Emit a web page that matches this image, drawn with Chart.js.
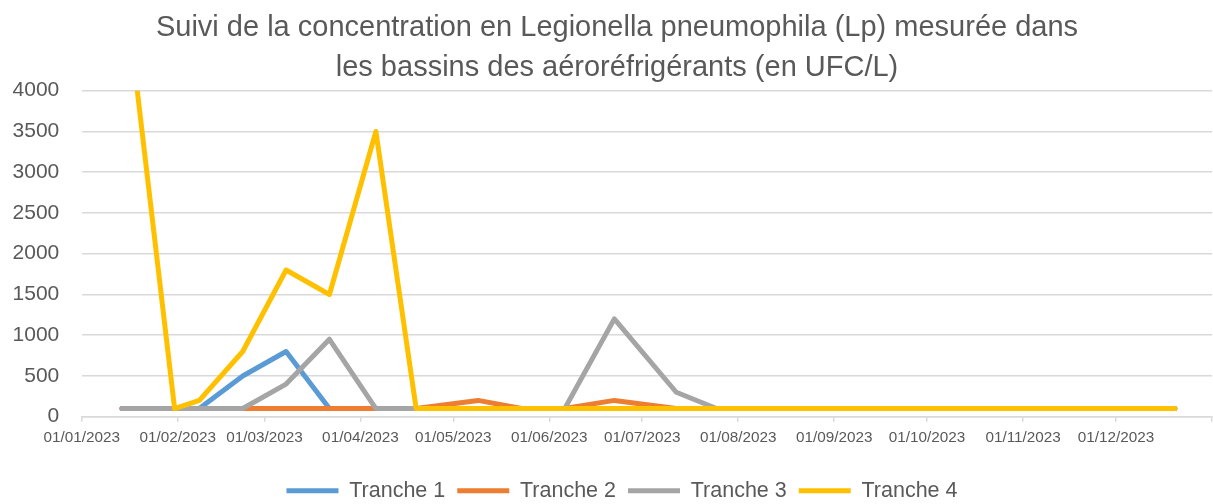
<!DOCTYPE html>
<html lang="fr">
<head>
<meta charset="utf-8">
<title>Suivi Legionella pneumophila</title>
<script src="https://cdn.jsdelivr.net/npm/chart.js@4.4.1/dist/chart.umd.min.js"></script>
<style>
  html, body { margin: 0; padding: 0; background: #fff; }
</style>
</head>
<body>
<canvas id="chart" width="1213" height="504"></canvas>
<script>
// Dates de prélèvement
const sampleDates = [
  '2023-01-14', '2023-01-31', '2023-02-08', '2023-02-22', '2023-03-08', '2023-03-22',
  '2023-04-06', '2023-04-19', '2023-05-09', '2023-05-23', '2023-06-06', '2023-06-22',
  '2023-07-12', '2023-07-25', '2023-08-08', '2023-08-22', '2023-09-05', '2023-09-19',
  '2023-10-03', '2023-10-17', '2023-10-31', '2023-11-14', '2023-11-28', '2023-12-12',
  '2023-12-20'
];

// Concentrations en UFC/L
const tranche1 = [100, 100, 100, 500, 800, 100, 100, 100, 100, 100, 100, 100, 100, 100, 100, 100, 100, 100, 100, 100, 100, 100, 100, 100, 100];
const tranche2 = [100, 100, 100, 100, 100, 100, 100, 100, 200, 100, 100, 200, 100, 100, 100, 100, 100, 100, 100, 100, 100, 100, 100, 100, 100];
const tranche3 = [100, 100, 100, 100, 400, 950, 100, 100, 100, 100, 100, 1200, 300, 100, 100, 100, 100, 100, 100, 100, 100, 100, 100, 100, 100];
const tranche4 = [5600, 100, 200, 800, 1800, 1500, 3500, 100, 100, 100, 100, 100, 100, 100, 100, 100, 100, 100, 100, 100, 100, 100, 100, 100, 100];

const seriesNames = ['Tranche 1', 'Tranche 2', 'Tranche 3', 'Tranche 4'];
const seriesColors = ['#5B9BD5', '#ED7D31', '#A5A5A5', '#FFC000'];

// Graduations de l'axe des dates
const monthTickDates = [
  '2023-01-01', '2023-02-01', '2023-03-01', '2023-04-01', '2023-05-01', '2023-06-01',
  '2023-07-01', '2023-08-01', '2023-09-01', '2023-10-01', '2023-11-01', '2023-12-01',
  '2024-01-01'
];
const monthTickLabels = [
  '01/01/2023', '01/02/2023', '01/03/2023', '01/04/2023', '01/05/2023', '01/06/2023',
  '01/07/2023', '01/08/2023', '01/09/2023', '01/10/2023', '01/11/2023', '01/12/2023', ''
];

const textColor = '#595959';
const gridColor = '#D9D9D9';
const fontFamily = "'Liberation Sans', Arial, sans-serif";

// jours depuis le 01/01/2023
function dayOf(s) {
  const [y, m, d] = s.split('-').map(Number);
  return (Date.UTC(y, m - 1, d) - Date.UTC(2023, 0, 1)) / 86400000;
}

const xs = sampleDates.map(dayOf);
const tickValues = monthTickDates.map(dayOf);

const allSeries = [tranche1, tranche2, tranche3, tranche4];
const datasets = allSeries.map((vals, i) => ({
  label: seriesNames[i],
  data: vals.map((v, j) => ({ x: xs[j], y: v })),
  borderColor: seriesColors[i],
  backgroundColor: seriesColors[i],
  borderWidth: 5,
  borderCapStyle: 'round',
  borderJoinStyle: 'round',
  pointRadius: 0,
  tension: 0,
  order: allSeries.length - i // Tranche 4 dessinée au-dessus
}));

// titre et légende un peu décalés comme dans Excel
const shiftBlocks = {
  id: 'shiftBlocks',
  afterLayout(chart) {
    chart.titleBlock.left += 11;
    chart.titleBlock.right += 11;
    chart.legend.left += 16;
    chart.legend.right += 16;
    chart.legend.top += 7.5;
    chart.legend.bottom += 7.5;
  }
};

new Chart(document.getElementById('chart').getContext('2d'), {
  type: 'line',
  data: { datasets },
  plugins: [shiftBlocks],
  options: {
    responsive: false,
    animation: false,
    layout: { padding: { left: 0, right: 1, top: 0, bottom: 0 } },
    plugins: {
      title: {
        display: true,
        text: [
          'Suivi de la concentration en Legionella pneumophila (Lp) mesurée dans',
          'les bassins des aéroréfrigérants (en UFC/L)'
        ],
        color: textColor,
        font: { family: fontFamily, size: 29, weight: 'normal', lineHeight: 40 / 29 },
        padding: { top: 8, bottom: 2.7 }
      },
      legend: {
        position: 'bottom',
        labels: {
          color: textColor,
          font: { family: fontFamily, size: 21.5 },
          boxWidth: 52,
          boxHeight: 5,
          padding: 12,
          generateLabels(chart) {
            return Chart.defaults.plugins.legend.labels.generateLabels(chart).map(l => ({
              ...l, lineWidth: 0, fillStyle: l.strokeStyle
            }));
          },
          sort: (a, b) => a.datasetIndex - b.datasetIndex
        }
      },
      tooltip: { enabled: false }
    },
    scales: {
      x: {
        type: 'linear',
        min: tickValues[0],
        max: tickValues[tickValues.length - 1],
        afterFit(scale) {
          scale.height = 43.8;
          scale.paddingRight = 0;
        },
        afterBuildTicks(scale) { scale.ticks = tickValues.map(v => ({ value: v })); },
        ticks: {
          autoSkip: false,
          maxRotation: 0,
          color: textColor,
          padding: 7,
          font: { family: fontFamily, size: 15.3 },
          callback: (value, index) => monthTickLabels[index]
        },
        grid: { drawOnChartArea: false, drawTicks: true, tickLength: 5, color: gridColor, lineWidth: 1.5 },
        border: { color: gridColor, width: 1.5 }
      },
      y: {
        min: 0,
        max: 4000,
        afterFit(scale) { scale.width = 81.7; },
        ticks: {
          stepSize: 500,
          color: textColor,
          padding: 22.4,
          font: { family: fontFamily, size: 21 },
          callback: v => String(v)
        },
        grid: { color: gridColor, lineWidth: 1.5, drawTicks: false },
        border: { display: false }
      }
    }
  }
});
</script>
</body>
</html>
